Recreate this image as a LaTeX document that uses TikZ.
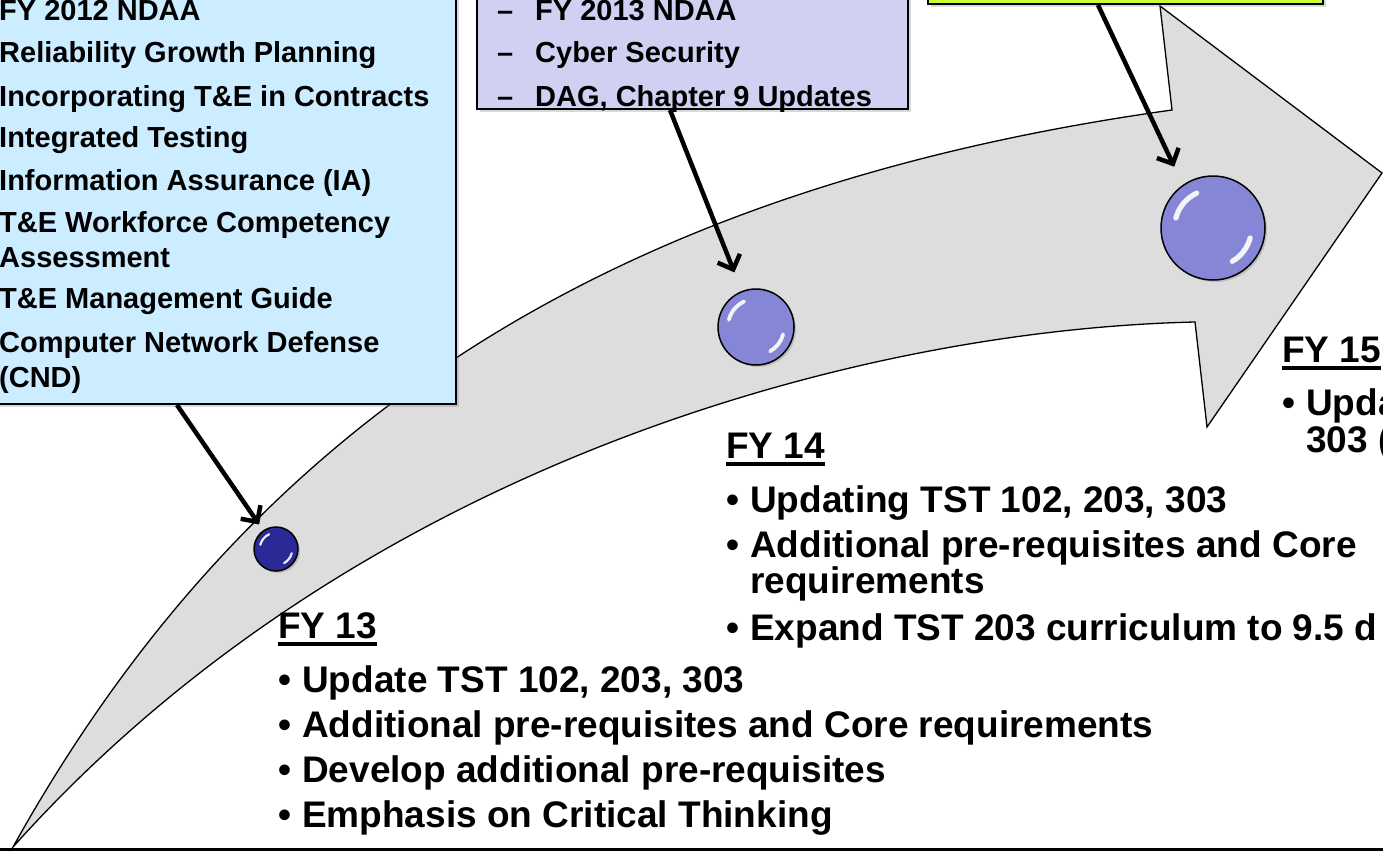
\documentclass[tikz,border=0pt]{standalone}
\usepackage{fontspec}
\setmainfont{Liberation Sans}
\usetikzlibrary{arrows.meta, shadows, calc}
\definecolor{ndaablue}{RGB}{204,236,255}
\definecolor{cyberlav}{RGB}{208,208,242}
\definecolor{fygreen}{RGB}{204,255,51}
\definecolor{trackgray}{RGB}{221,221,221}
\definecolor{balldark}{RGB}{42,42,150}
\definecolor{balllight}{RGB}{134,134,214}
\tikzset{
  infobox/.style={rectangle, draw=black, line width=2pt, inner sep=0pt,
    drop shadow={opacity=0.3, shadow xshift=3pt, shadow yshift=-3pt}},
  boxtxt/.style={anchor=base west, inner sep=0pt, font=\fontsize{29}{34}\selectfont\bfseries},
  fytxt/.style={anchor=base west, inner sep=0pt, font=\fontsize{37}{44}\selectfont\bfseries},
  uline/.style={line width=4pt},
  pointer/.style={line width=4.5pt, -{Straight Barb[length=12pt,width=24pt]}},
  track/.style={fill=trackgray, draw=black, line width=1.3pt},
  glass/.style 2 args={circle, draw=black, line width=1.5pt, minimum size=#1, inner sep=0pt, fill=#2,
    drop shadow={opacity=0.35, shadow xshift=2pt, shadow yshift=-2pt},
    path picture={
      \draw[white, opacity=0.9, line width={0.05*#1pt}, line cap=round]
        ([shift={(115:{0.37*#1pt})}]path picture bounding box.center)
        arc[start angle=115, end angle=165, radius={0.37*#1pt}];
      \draw[white, opacity=0.9, line width={0.05*#1pt}, line cap=round]
        ([shift={(-15:{0.37*#1pt})}]path picture bounding box.center)
        arc[start angle=-15, end angle=-60, radius={0.37*#1pt}];
    }},
}
\begin{document}
\begin{tikzpicture}[x=1pt,y=-1pt]
\useasboundingbox (0,0) rectangle (1383,851);
% === curved timeline arrow ===
\filldraw[track] (13,847) .. controls (245,430) and (600,190) .. (1172,110)
  -- (1160,6) -- (1382,173) -- (1207,427) -- (1195,322)
  .. controls (850,330) and (350,470) .. (13,847) -- cycle;
\draw[line width=3pt] (0,849.5) -- (1383,849.5);
% === milestone balls ===
\node[glass={44}{balldark}] (b13) at (276,549) {};
\node[glass={76}{balllight}] (b14) at (756,327) {};
\node[glass={104}{balllight}] (b15) at (1213,228) {};
% === call-out boxes ===
\node[infobox, fill=ndaablue, minimum width=490pt, minimum height=440pt, anchor=south east] (ndaa) at (457,405) {};
\node[infobox, fill=cyberlav, minimum width=431pt, minimum height=150pt, anchor=south east] (cyber) at (909,110) {};
\node[infobox, fill=fygreen, minimum width=395pt, minimum height=60pt, anchor=south east] (plan) at (1324,5) {};
\foreach \txt/\yy [count=\i] in {FY 2012 NDAA/21, Reliability Growth Planning/63,
    Incorporating T\&E in Contracts/106, Integrated Testing/147, Information Assurance (IA)/190,
    T\&E Workforce Competency/232, Assessment/267, T\&E Management Guide/308,
    Computer Network Defense/352, (CND)/387}
  \node[boxtxt] (ndaa\i) at (-1,\yy) {\txt};
\foreach \txt/\yy [count=\i] in {FY 2013 NDAA/21, Cyber Security/63, {DAG, Chapter 9 Updates}/106}
  \node[boxtxt] (cyber\i) at (497,\yy) {\makebox[38pt][l]{\textendash}\txt};
% === pointers ===
\draw[pointer, shorten >=7pt] ([xshift=-280pt]ndaa.south east) -- (b13);
\draw[pointer, shorten >=20pt] ([xshift=-239pt]cyber.south east) -- (b14);
\draw[pointer, shorten >=20pt] ([xshift=-226pt]plan.south east) -- (b15.125);
% === FY 13 ===
\node[fytxt] (fy13) at (278,638) {FY 13};
\draw[uline] ([yshift=-6pt]fy13.base west) -- ([yshift=-6pt]fy13.base east);
\foreach \txt [count=\i] in {{Update TST 102, 203, 303}, {Additional pre-requisites and Core requirements},
    {Develop additional pre-requisites}, {Emphasis on Critical Thinking}}
  \node[fytxt] (fy13i\i) at (278,{692+45*(\i-1)}) {\makebox[24pt][l]{\textbullet}\txt};
% === FY 14 ===
\node[fytxt] (fy14) at (726,458) {FY 14};
\draw[uline] ([yshift=-6pt]fy14.base west) -- ([yshift=-6pt]fy14.base east);
\node[fytxt] (fy14i1) at (726,512) {\makebox[24pt][l]{\textbullet}Updating TST 102, 203, 303};
\node[fytxt] (fy14i2) at (726,557) {\makebox[24pt][l]{\textbullet}Additional pre-requisites and Core};
\node[fytxt] (fy14i2b) at (750,593) {requirements};
\node[fytxt] (fy14i3) at (726,640) {\makebox[24pt][l]{\textbullet}Expand TST 203 curriculum to 9.5 d};
% === FY 15 ===
\node[fytxt] (fy15) at (1282,362) {FY 15};
\draw[uline] ([yshift=-6pt]fy15.base west) -- ([yshift=-6pt]fy15.base east);
\node[fytxt] (fy15i1) at (1282,415) {\makebox[24pt][l]{\textbullet}Upda};
\node[fytxt] (fy15i1b) at (1306,452) {303 (};
\end{tikzpicture}
\end{document}
